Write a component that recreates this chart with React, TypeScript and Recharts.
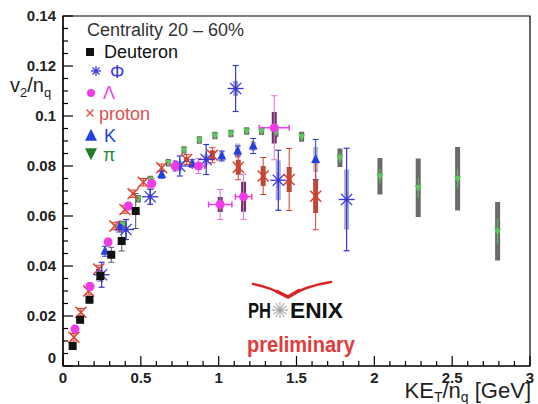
import React from "react";
import { ScatterChart, Scatter, XAxis, YAxis, ErrorBar, ReferenceArea } from "recharts";

const FONT = "'Liberation Sans', Arial, Helvetica, sans-serif";

// deuteron
const dX = [0.062, 0.11, 0.17, 0.24, 0.31, 0.377, 0.467];
const dY = [0.008, 0.0185, 0.0265, 0.036, 0.0445, 0.05, 0.062];
const dErr = [0.001, 0.0012, 0.0012, 0.002, 0.003, 0.004, 0.007];

// phi
const phiX = [0.248, 0.405, 0.56, 0.75, 0.92, 1.109, 1.383, 1.822];
const phiY = [0.0365, 0.0546, 0.0677, 0.08, 0.0826, 0.111, 0.0743, 0.0666];
const phiErr = [0.005, 0.004, 0.003, 0.004, 0.006, 0.0092, 0.012, 0.0205];
const phiSys = [0.001, 0.001, 0.001, 0.002, 0.002, 0.003, 0.008, 0.012];

// lambda
const lamX = [0.077, 0.173, 0.29, 0.42, 0.57, 0.72, 0.87, 1.01, 1.16, 1.357];
const lamY = [0.0148, 0.0318, 0.0496, 0.064, 0.073, 0.08, 0.08, 0.0646, 0.0677, 0.0953];
const lamErr = [0.001, 0.0015, 0.0015, 0.0015, 0.002, 0.002, 0.003, 0.006, 0.009, 0.0128];
const lamSys = [0, 0, 0, 0, 0, 0.001, 0.001, 0.003, 0.006, 0.0063];
const lamXErr = [0, 0, 0, 0, 0, 0, 0.04, 0.075, 0.053, 0.096];

// proton
const pX = [0.07, 0.115, 0.165, 0.23, 0.334, 0.398, 0.45, 0.516, 0.634, 0.794, 0.96, 1.126, 1.286, 1.453, 1.623];
const pY = [0.0115, 0.0215, 0.03, 0.0388, 0.056, 0.0626, 0.0689, 0.0735, 0.0793, 0.0826, 0.0843, 0.0795, 0.076, 0.0746, 0.0679];
const pErr = [0.0015, 0.0015, 0.0015, 0.0015, 0.0015, 0.0015, 0.0015, 0.0015, 0.0015, 0.002, 0.003, 0.005, 0.0074, 0.0124, 0.0134];
const pSys = [0, 0, 0, 0, 0, 0, 0, 0, 0, 0.001, 0.002, 0.003, 0.004, 0.005, 0.0067];

// kaon
const kX = [0.27, 0.362, 0.634, 0.73, 0.83, 1.02, 1.122, 1.222, 1.623];
const kY = [0.0459, 0.0556, 0.0766, 0.08, 0.081, 0.084, 0.086, 0.088, 0.0826];
const kErr = [0.002, 0.002, 0.0015, 0.0015, 0.0015, 0.002, 0.002, 0.003, 0.008];
const kSys = [0, 0, 0, 0, 0.001, 0.002, 0.003, 0.002, 0.005];

// pion
const piX = [0.387, 0.484, 0.563, 0.676, 0.777, 0.876, 0.976, 1.079, 1.18, 1.276, 1.368, 1.533, 1.779, 2.036, 2.282, 2.535, 2.792];
const piY = [0.0566, 0.0669, 0.0746, 0.0813, 0.0864, 0.0904, 0.0922, 0.093, 0.094, 0.0939, 0.0936, 0.0917, 0.0833, 0.0759, 0.0713, 0.0749, 0.0539];
const piErr = [0.0008, 0.0008, 0.0008, 0.0008, 0.0008, 0.0008, 0.0008, 0.001, 0.001, 0.001, 0.0012, 0.0015, 0.002, 0.003, 0.004, 0.004, 0.005];
const piSys = [0.0015, 0.0015, 0.0015, 0.0015, 0.0015, 0.0015, 0.0015, 0.0015, 0.0015, 0.0015, 0.002, 0.002, 0.0037, 0.0073, 0.0117, 0.0127, 0.0117];

const xTicks = Array.from({ length: 31 }, (_, i) => +(i * 0.1).toFixed(1));
const yTicks = Array.from({ length: 29 }, (_, i) => +(i * 0.005).toFixed(3));

const build = (xs: number[], ys: number[], ey: number[], sys?: number[], ex?: number[]) =>
  xs.map((x, i) => ({ x, y: ys[i], ey: ey[i], sys: sys ? sys[i] : 0, ex: ex ? ex[i] : 0 }));

const deuteron = build(dX, dY, dErr);
const phi = build(phiX, phiY, phiErr, phiSys);
const lambda = build(lamX, lamY, lamErr, lamSys, lamXErr);
const proton = build(pX, pY, pErr, pSys);
const kaon = build(kX, kY, kErr, kSys);
const pion = build(piX, piY, piErr, piSys);

const C_PHI = "#3636d8";
const C_LAM = "#f03ce8";
const C_P = "#dc3c2c";
const C_K = "#2440e0";
const C_PI = "#5cc85c";

const isMajor = (v: number, step: number) => Math.abs(v / step - Math.round(v / step)) < 1e-6;
const fmt = (v: number) => String(+v.toFixed(3));

const XTick = (props: any) => {
  const { x, y, payload } = props;
  const major = isMajor(payload.value, 0.5);
  return (
    <g>
      <line x1={x} x2={x} y1={y} y2={y - (major ? 10 : 5)} stroke="#000" strokeWidth={1.2} />
      {major && (
        <text x={x} y={y + 17} textAnchor="middle" fontSize={15} fontWeight="bold" fontFamily={FONT} fill="#222">
          {fmt(payload.value)}
        </text>
      )}
    </g>
  );
};

const YTick = (props: any) => {
  const { x, y, payload } = props;
  const major = isMajor(payload.value, 0.02);
  return (
    <g>
      <line x1={x} x2={x + (major ? 10 : 5)} y1={y} y2={y} stroke="#000" strokeWidth={1.2} />
      {major && (
        <text x={x - 7} y={payload.value === 0 ? y - 3 : y + 5} textAnchor="end" fontSize={15} fontWeight="bold" fontFamily={FONT} fill="#222">
          {fmt(payload.value)}
        </text>
      )}
    </g>
  );
};

const Square = ({ cx, cy }: any) => <rect x={cx - 4} y={cy - 4} width={8} height={8} fill="#111" />;

const Asterisk = ({ cx, cy, r = 8, color = C_PHI }: any) => {
  const d = r * 0.7;
  return (
    <g stroke={color} strokeWidth={1.3}>
      <line x1={cx - r} y1={cy} x2={cx + r} y2={cy} />
      <line x1={cx} y1={cy - r} x2={cx} y2={cy + r} />
      <line x1={cx - d} y1={cy - d} x2={cx + d} y2={cy + d} />
      <line x1={cx - d} y1={cy + d} x2={cx + d} y2={cy - d} />
    </g>
  );
};

const Dot = ({ cx, cy, r = 4.5 }: any) => <circle cx={cx} cy={cy} r={r} fill={C_LAM} />;

const Cross = ({ cx, cy, r = 5.5, color = C_P }: any) => (
  <g stroke={color} strokeWidth={1.5}>
    <line x1={cx - r} y1={cy - r} x2={cx + r} y2={cy + r} />
    <line x1={cx - r} y1={cy + r} x2={cx + r} y2={cy - r} />
  </g>
);

const TriUp = ({ cx, cy, s = 4.5, color = C_K }: any) => (
  <polygon points={`${cx},${cy - s * 1.2} ${cx - s},${cy + s * 0.8} ${cx + s},${cy + s * 0.8}`} fill={color} />
);

const TriDown = ({ cx, cy, s = 3.5, color = C_PI }: any) => (
  <polygon points={`${cx},${cy + s * 1.2} ${cx - s},${cy - s * 0.8} ${cx + s},${cy - s * 0.8}`} fill={color} />
);

const Overlay = () => (
  <svg width={538} height={404} style={{ position: "absolute", left: 0, top: 0, pointerEvents: "none" }}>
    <g fontFamily={FONT}>
      {/* y title */}
      <text x={10} y={92} fontSize={20} fill="#222">
        v<tspan fontSize={13} dy={5}>2</tspan>
        <tspan dy={-5}>/n</tspan>
        <tspan fontSize={13} dy={5}>q</tspan>
      </text>
      {/* x title */}
      <text x={531} y={398} fontSize={22} fill="#222" textAnchor="end">
        KE<tspan fontSize={14} dy={4}>T</tspan>
        <tspan dy={-4}>/n</tspan>
        <tspan fontSize={14} dy={4}>q</tspan>
        <tspan dy={-4}> [GeV]</tspan>
      </text>

      {/* legend */}
      <text x={87} y={36} fontSize={18} fill="#333">Centrality 20 – 60%</text>
      <Square cx={90} cy={52} />
      <text x={104} y={58} fontSize={18} fill="#111">Deuteron</text>
      <Asterisk cx={96} cy={71} r={5} />
      <text x={110} y={78} fontSize={18} fill={C_PHI}>Φ</text>
      <Dot cx={91} cy={93} r={4} />
      <text x={103} y={99} fontSize={18} fill={C_LAM}>Λ</text>
      <Cross cx={90} cy={113} r={3.5} color="#e05a50" />
      <text x={99} y={120} fontSize={18} fill="#e05050">proton</text>
      <TriUp cx={91} cy={136} s={6} color={C_K} />
      <text x={104} y={142} fontSize={18} fill={C_K}>K</text>
      <TriDown cx={91} cy={153} s={6} color="#1e7c2a" />
      <text x={103} y={161} fontSize={18} fill="#2a8a3a">π</text>

      {/* PHENIX logo */}
      <path d="M253,284 Q268,286 288,297 Q305,286 331,282" stroke="#d82424" strokeWidth={2.5} fill="none" strokeLinecap="round" />
      <path d="M276,291 L288,297 L300,290" stroke="#d82424" strokeWidth={3.5} fill="none" />
      <text x={248} y={318} fontSize={22} fontWeight="bold" fill="#111" textLength={23} lengthAdjust="spacingAndGlyphs">PH</text>
      <g stroke="#999" strokeWidth={1}>
        {[0, 30, 60, 90, 120, 150].map((a) => {
          const r = (a * Math.PI) / 180;
          return <line key={a} x1={280 - 8 * Math.cos(r)} y1={310 - 8 * Math.sin(r)} x2={280 + 8 * Math.cos(r)} y2={310 + 8 * Math.sin(r)} />;
        })}
      </g>
      <text x={290} y={318} fontSize={22} fontWeight="bold" fill="#111" textLength={53} lengthAdjust="spacingAndGlyphs">ENIX</text>
      <text x={247} y={352} fontSize={22} fontWeight="bold" fill="#e23b3b" textLength={108} lengthAdjust="spacingAndGlyphs">preliminary</text>
    </g>
  </svg>
);

export default function App() {
  return (
    <div style={{ position: "absolute", left: 0, top: 0, width: 538, height: 404, background: "#fff" }}>
      <ScatterChart width={538} height={404} margin={{ top: 16, right: 8, bottom: 8, left: 8 }}>
        <XAxis
          type="number"
          dataKey="x"
          domain={[0, 3]}
          ticks={xTicks}
          interval={0}
          height={30}
          tickSize={0}
          tickMargin={0}
          tickLine={false}
          tick={<XTick />}
          axisLine={{ stroke: "#000", strokeWidth: 1.2 }}
          allowDataOverflow
        />
        <YAxis
          type="number"
          dataKey="y"
          domain={[0, 0.14]}
          ticks={yTicks}
          interval={0}
          width={55}
          tickSize={0}
          tickMargin={0}
          tickLine={false}
          tick={<YTick />}
          axisLine={{ stroke: "#000", strokeWidth: 1.2 }}
          allowDataOverflow
        />
        <ReferenceArea x1={0} x2={3} y1={0} y2={0.14} fill="none" stroke="#000" strokeWidth={1.2} />

        <Scatter data={pion} shape={<TriDown />} isAnimationActive={false}>
          <ErrorBar dataKey="sys" direction="y" width={0} stroke="#6a6a6a" strokeWidth={5} isAnimationActive={false} />
          <ErrorBar dataKey="ey" direction="y" width={0} stroke={C_PI} strokeWidth={1} isAnimationActive={false} />
        </Scatter>
        <Scatter data={kaon} shape={<TriUp />} isAnimationActive={false}>
          <ErrorBar dataKey="sys" direction="y" width={0} stroke="#bcbccc" strokeWidth={5} isAnimationActive={false} />
          <ErrorBar dataKey="ey" direction="y" width={3} stroke={C_K} strokeWidth={1} isAnimationActive={false} />
        </Scatter>
        <Scatter data={proton} shape={<Cross />} isAnimationActive={false}>
          <ErrorBar dataKey="sys" direction="y" width={0} stroke="#b0503c" strokeWidth={5} isAnimationActive={false} />
          <ErrorBar dataKey="ey" direction="y" width={3} stroke={C_P} strokeWidth={1} isAnimationActive={false} />
        </Scatter>
        <Scatter data={phi} shape={<Asterisk />} isAnimationActive={false}>
          <ErrorBar dataKey="sys" direction="y" width={0} stroke="#a8a8dc" strokeWidth={5} isAnimationActive={false} />
          <ErrorBar dataKey="ey" direction="y" width={3} stroke={C_PHI} strokeWidth={1.2} isAnimationActive={false} />
        </Scatter>
        <Scatter data={lambda} shape={<Dot />} isAnimationActive={false}>
          <ErrorBar dataKey="sys" direction="y" width={0} stroke="#6c3464" strokeWidth={5} isAnimationActive={false} />
          <ErrorBar dataKey="ey" direction="y" width={3} stroke="#e070d8" strokeWidth={1} isAnimationActive={false} />
          <ErrorBar dataKey="ex" direction="x" width={3} stroke={C_LAM} strokeWidth={1.5} isAnimationActive={false} />
        </Scatter>
        <Scatter data={deuteron} shape={<Square />} isAnimationActive={false}>
          <ErrorBar dataKey="ey" direction="y" width={3} stroke="#555" strokeWidth={1} isAnimationActive={false} />
        </Scatter>
      </ScatterChart>
      <Overlay />
    </div>
  );
}
